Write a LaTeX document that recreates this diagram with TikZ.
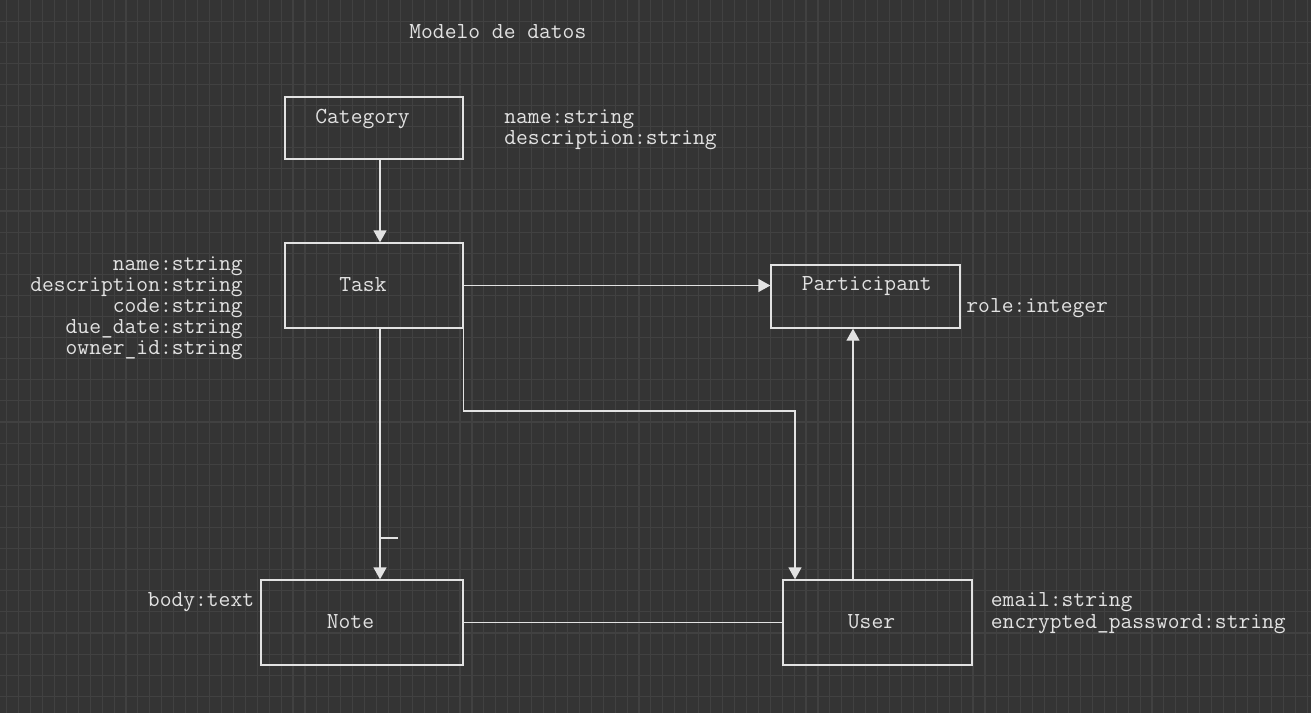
\documentclass[tikz,border=0pt]{standalone}
\usepackage{fontspec}
\usepackage{xcolor}
\usepackage{tikz}
\usetikzlibrary{arrows.meta}

\definecolor{canvas}{HTML}{343434}
\definecolor{gridgray}{HTML}{414141}
\definecolor{ink}{HTML}{E2E2E2}

\tikzset{
  entity/.style={draw=ink, line width=0.65pt, rectangle, inner sep=0pt},
  caption/.style={text=ink, font=\ttfamily\fontsize{11.45}{12}\selectfont, inner sep=0pt, anchor=base west},
  link/.style={draw=ink, line width=0.65pt},
  arrowlink/.style={link, -{Triangle[length=6pt,width=6.5pt]}},
  gridline/.style={draw=gridgray, line width=0.55pt}
}

\begin{document}
\begin{tikzpicture}[x=0.5pt,y=-0.5pt]
                    % background and grid
                    \fill[canvas] (0,0) rectangle (1311,713);
                    \useasboundingbox (0,0) rectangle (1311,713);
                    \foreach \i in {0,...,109}
                        \draw[gridline] ({6.7+11.93*\i},0) -- ++(0,713);
                    \foreach \j in {1,...,33}
                        \draw[gridline] (0,{21.1*\j}) -- ++(1311,0);

                    \node[caption] (title) at (409,38.3) {Modelo de datos};

                    % entities
                    \node[entity, minimum width=89pt, minimum height=31pt] (category) at (374,128) {};
                    \node[entity, minimum width=89pt, minimum height=42.5pt] (task) at (374,285.5) {};
                    \node[entity, minimum width=94.5pt, minimum height=31.5pt] (participant) at (865.5,296.5) {};
                    \node[entity, minimum width=101pt, minimum height=42.5pt] (note) at (362,622.5) {};
                    \node[entity, minimum width=94.5pt, minimum height=42.5pt] (user) at (877.5,622.5) {};

                    \node[caption] (categoryname) at (315,123.3) {Category};
                    \node[caption] (taskname) at (339,291) {Task};
                    \node[caption] (participantname) at (801.5,290.7) {Participant};
                    \node[caption] (notename) at (326.5,628.3) {Note};
                    \node[caption] (username) at (847.5,628.3) {User};

                    % attributes
                    \node[caption] (categoryattr1) at (504,123.3) {name:string};
                    \node[caption] (categoryattr2) at (504,144) {description:string};
                    \node[caption, anchor=base east] (taskattr1) at (243,270.7) {name:string};
                    \node[caption, anchor=base east] (taskattr2) at (243,291.4) {description:string};
                    \node[caption, anchor=base east] (taskattr3) at (243,312.2) {code:string};
                    \node[caption, anchor=base east] (taskattr4) at (243,333.2) {due\_date:string};
                    \node[caption, anchor=base east] (taskattr5) at (243,354) {owner\_id:string};
                    \node[caption] (participantattr) at (966,312) {role:integer};
                    \node[caption, anchor=base east] (noteattr) at (254.5,606.5) {body:text};
                    \node[caption] (userattr1) at (990.5,606.7) {email:string};
                    \node[caption] (userattr2) at (990.5,628.5) {encrypted\_password:string};

                    % connectors
                    \coordinate (leftx) at (380,0);
                    \coordinate (upx) at (853,0);
                    \coordinate (bend) at (795,411);
                    \coordinate (tick) at (380,538);
                    \draw[arrowlink] (category.south -| leftx) -- (task.north -| leftx);
                    \draw[arrowlink] (task.east) -- (participant.west |- task.east);
                    \draw[arrowlink] (task.south -| leftx) -- (note.north -| leftx);
                    \draw[link] (tick) -- ++(18,0);
                    \draw[arrowlink] (task.south east) |- (bend) -- (user.north -| bend);
                    \draw[arrowlink] (user.north -| upx) -- (participant.south -| upx);
                    \draw[link] (note.east) -- (user.west);
                \end{tikzpicture}
\end{document}
